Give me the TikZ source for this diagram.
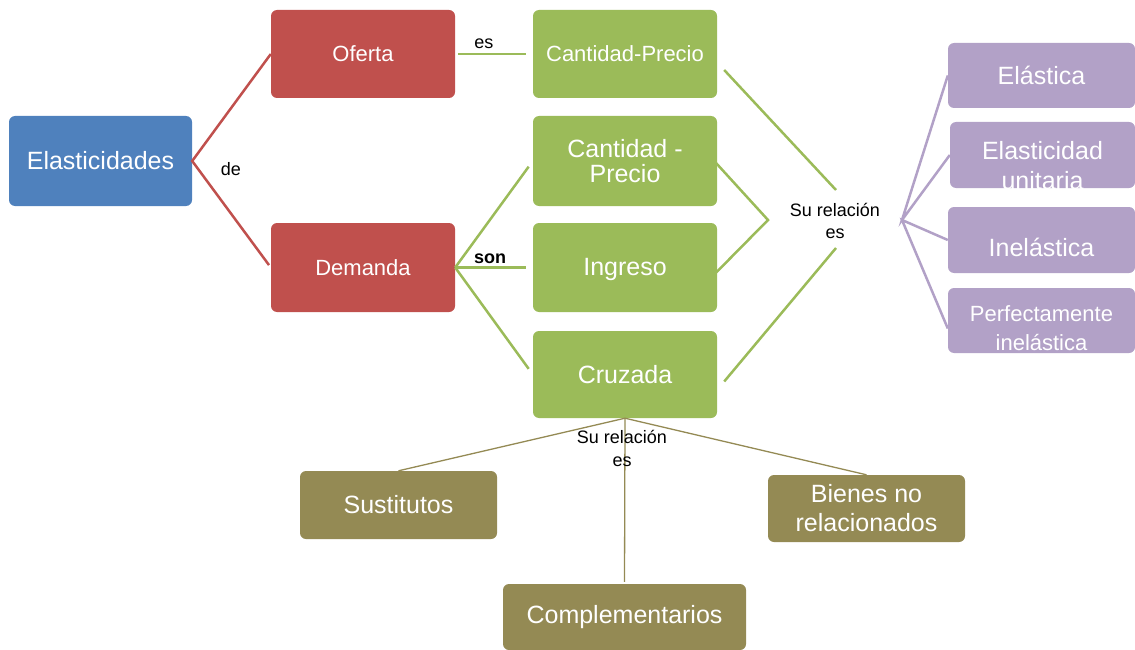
\documentclass[tikz,border=0pt]{standalone}
\usepackage{fontspec}
\setmainfont{Liberation Sans}
\usepackage{tikz}
\usetikzlibrary{positioning, calc}
\definecolor{elasblue}{RGB}{79,129,189}
\definecolor{elasred}{RGB}{192,80,77}
\definecolor{elasgreen}{RGB}{155,187,89}
\definecolor{elaspurple}{RGB}{178,161,199}
\definecolor{elasolive}{RGB}{148,138,84}

\begin{document}
\begin{tikzpicture}[x=1pt, y=-1pt,
  box/.style={rectangle, fill=#1, rounded corners=6pt, text=white, align=center,
              inner sep=0pt, font=\fontsize{25}{30}\selectfont},
  lbl/.style={align=center, inner sep=0pt, text=black, font=\fontsize{18}{22}\selectfont},
  rlink/.style={elasred, line width=2.5pt},
  glink/.style={elasgreen, line width=2.5pt},
  plink/.style={elaspurple, line width=2.5pt},
  olink/.style={elasolive, line width=1.3pt},
]
  \useasboundingbox (0,0) rectangle (1135,650);

  % main boxes
  \node[box=elasblue, minimum width=183pt, minimum height=90pt] (elas) at (100.5,161) {Elasticidades};
  \node[box=elasred, minimum width=184pt, minimum height=88pt, font=\fontsize{22}{26}\selectfont] (ofer) at (363,54) {Oferta};
  \node[box=elasred, minimum width=184pt, minimum height=89pt, font=\fontsize{22}{26}\selectfont] (dem) at (363,267.5) {Demanda};

  % green column
  \node[box=elasgreen, minimum width=184pt, minimum height=88pt, font=\fontsize{22}{26}\selectfont] (cp1) at (625,54) {Cantidad-Precio};
  \node[box=elasgreen, minimum width=184pt, minimum height=90pt, font=\fontsize{25}{25}\selectfont] (cp2) at (625,161) {Cantidad -\\Precio};
  \node[box=elasgreen, minimum width=184pt, minimum height=89pt, text height=21pt] (ing) at (625,267.5) {Ingreso};
  \node[box=elasgreen, minimum width=184pt, minimum height=87pt] (cruz) at (625,374.5) {Cruzada};

  % purple column
  \node[box=elaspurple, minimum width=187pt, minimum height=65pt] (ela) at (1041.5,75.5) {Elástica};
  \node[box=elaspurple, minimum width=185pt, minimum height=66pt, inner ysep=-3pt, font=\fontsize{25}{30}\selectfont] (uni) at (1042.5,155) {\rule{0pt}{40pt}Elasticidad\\unitaria};
  \node[box=elaspurple, minimum width=187pt, minimum height=66pt, text height=34pt] (inel) at (1041.5,240) {Inelástica};
  \node[box=elaspurple, minimum width=187pt, minimum height=65pt, font=\fontsize{22}{29}\selectfont] (perf) at (1041.5,320.5) {\rule{0pt}{32pt}Perfectamente\\inelástica};

  % olive row
  \node[box=elasolive, minimum width=197pt, minimum height=68pt] (sust) at (398.5,505) {Sustitutos};
  \node[box=elasolive, minimum width=197pt, minimum height=67pt, font=\fontsize{25}{29}\selectfont] (bien) at (866.5,508.5) {Bienes no\\relacionados};
  \node[box=elasolive, minimum width=243pt, minimum height=66pt] (comp) at (624.5,617) {Complementarios};

  % junctions
  \coordinate (relT) at (836,190);
  \coordinate (relB) at (836,248);
  \coordinate (vj) at (768,220);
  \coordinate (pj) at (902,220);

  % connectors
  \draw[rlink, shorten >=3pt] (ofer.west) -- (elas.east) -- (dem.west);
  \node[lbl] (de) at (231,169) {de};
  \draw[glink, shorten <=3pt, shorten >=7pt] (ofer.east) -- node[lbl, above=4pt, pos=0.37] (es) {es} (cp1.west);
  \draw[glink, shorten >=7pt] (dem.east) -- (cp2.west);
  \draw[glink, shorten >=7pt] (dem.east) -- node[lbl, above=3pt, pos=0.45, font=\fontsize{18}{22}\selectfont\bfseries] (son) {son} (ing.west);
  \draw[glink, shorten >=7pt] (dem.east) -- (cruz.west);

  \draw[glink] ([xshift=7pt, yshift=-16pt]cp1.east) -- (relT);
  \draw[glink] ([xshift=-3pt]cp2.east) -- (vj) -- ([xshift=-3pt, yshift=-7pt]ing.east);
  \draw[glink] ([xshift=7pt, yshift=-7pt]cruz.east) -- (relB);
  \node[lbl] (rel) at (835,221) {Su relación\\es};

  \draw[plink] (ela.west) -- (pj) -- (uni.west);
  \draw[plink] (inel.west) -- (pj) -- ([yshift=-8pt]perf.west);

  \draw[olink] (sust.north) -- (cruz.south) -- (bien.north);
  \draw[olink, shorten >=2pt] (cruz.south) -- (comp.north);
  \node[lbl, font=\fontsize{18}{23}\selectfont] (relc) at (622,448.5) {Su relación\\es};
\end{tikzpicture}
\end{document}
